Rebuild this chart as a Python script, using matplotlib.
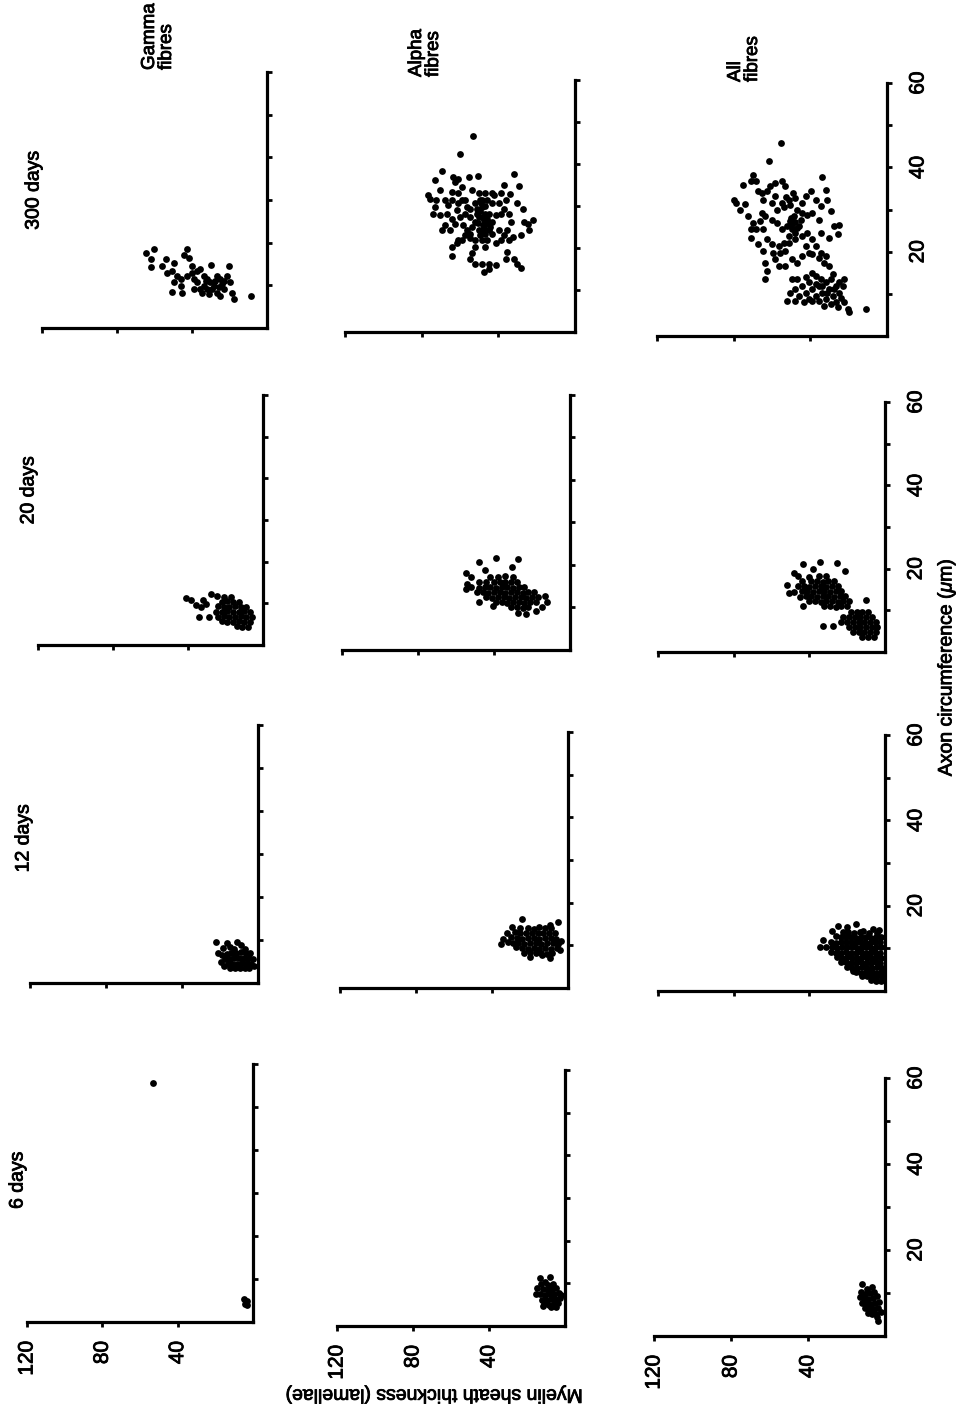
# pylint: disable=invalid-name

"""
    Myelin sheath thickness vs axon circumference (gamma / alpha / all fibres)

    Recreates the rotated 3 x 4 grid of scatter panels and saves out.png.
"""

from __future__ import annotations
import matplotlib
matplotlib.use('Agg')
import matplotlib.pyplot as plt
import matplotlib.patheffects as pe


# ============================================================
# Data: (myelin thickness [lamellae], axon circumference [um])
# ============================================================

GAMMA_6D = [(4.8, 5.4), (3.2, 5.0), (4.0, 4.2), (3.0, 4.0), (53.0, 55.5)]

ALPHA_6D = [
    (13.2, 11.2), (7.9, 11.4), (10.5, 10.3), (12.5, 9.8), (9.0, 9.6), (6.5, 9.9),
    (14.8, 8.9), (11.8, 8.6), (9.2, 8.4), (6.8, 8.7), (4.6, 8.9), (15.3, 7.6),
    (13.0, 7.4), (10.6, 7.3), (8.0, 7.5), (5.6, 7.6), (3.4, 7.8), (12.2, 6.2),
    (9.6, 6.1), (7.2, 6.3), (4.8, 6.4), (2.6, 6.6), (10.8, 5.2), (8.4, 5.0),
    (6.0, 5.1), (3.8, 5.3), (7.5, 4.4), (5.0, 4.5), (11.5, 4.8), (2.0, 7.2),
]

ALL_6D = [
    (12.2, 12.0), (6.9, 11.5), (9.5, 11.0), (12.5, 10.2), (10.2, 9.8), (7.8, 10.0),
    (5.5, 10.3), (13.2, 9.0), (11.0, 8.6), (8.6, 8.7), (6.2, 8.9), (4.0, 9.2),
    (12.0, 7.6), (9.6, 7.4), (7.2, 7.5), (5.0, 7.7), (3.0, 8.0), (10.5, 6.4),
    (8.0, 6.2), (5.8, 6.3), (3.6, 6.6), (7.0, 5.2), (4.6, 5.1), (4.2, 4.4),
    (3.7, 3.4), (2.2, 5.6), (9.0, 5.3),
]

GAMMA_12D = [
    (22.2, 9.5), (11.1, 9.5), (21.2, 7.0), (18.5, 8.1), (16.4, 9.3), (14.8, 8.4),
    (9.0, 8.8), (12.5, 8.0), (7.0, 8.0), (19.0, 6.5), (16.5, 6.8), (14.0, 7.0),
    (11.5, 7.0), (9.0, 7.1), (6.5, 7.0), (4.0, 7.0), (17.5, 5.5), (15.0, 5.6),
    (12.5, 5.8), (10.0, 5.8), (7.5, 5.9), (5.0, 5.8), (2.5, 5.6), (16.0, 4.4),
    (13.5, 4.4), (11.0, 4.5), (8.5, 4.6), (6.0, 4.6), (3.5, 4.5), (14.5, 3.4),
    (12.0, 3.4), (9.5, 3.4), (7.0, 3.5), (4.5, 3.6), (2.2, 4.0), (17.8, 4.0),
    (19.5, 5.0),
]

ALPHA_12D = [
    (24.3, 16.2), (5.3, 15.5), (9.5, 14.8), (29.6, 14.3), (34.4, 11.5), (32.3, 12.9),
    (20.1, 7.3), (9.5, 7.0), (13.8, 7.7), (4.0, 9.0), (3.5, 11.0), (35.0, 10.4),
    (8.2, 8.2), (11.0, 8.0), (14.1, 8.3), (17.0, 8.1), (19.8, 8.4), (23.0, 8.2),
    (6.0, 9.4), (9.1, 9.2), (12.0, 9.3), (15.2, 9.1), (18.0, 9.4), (21.1, 9.2),
    (24.0, 9.3), (27.2, 9.5), (5.1, 10.4), (8.0, 10.6), (11.0, 10.5), (14.0, 10.4),
    (17.1, 10.6), (20.0, 10.5), (23.0, 10.4), (26.1, 10.6), (29.0, 10.5), (31.8, 10.8),
    (6.2, 11.6), (9.0, 11.8), (12.1, 11.7), (15.0, 11.6), (18.0, 11.8), (21.0, 11.7),
    (24.1, 11.6), (27.0, 11.8), (30.0, 11.9), (7.0, 12.8), (10.0, 13.0), (13.1, 12.9),
    (16.0, 12.8), (19.0, 13.0), (22.1, 12.9), (25.0, 12.8), (28.0, 13.1), (9.0, 14.1),
    (12.2, 14.0), (15.0, 14.2), (18.1, 13.9), (21.0, 14.1), (25.0, 14.0),
]

ALL_12D = [
    (6.3, 14.5), (11.6, 14.0), (24.9, 15.2), (28.0, 14.0), (32.8, 11.9), (34.4, 10.3),
    (3.0, 14.2), (20.0, 15.0), (15.5, 15.6),
    (2.0, 2.4), (4.6, 2.3), (7.2, 2.5),
    (1.6, 3.4), (4.2, 3.5), (6.8, 3.3), (9.4, 3.4), (12.0, 3.5),
    (2.2, 4.4), (4.8, 4.3), (7.4, 4.5), (10.0, 4.4), (12.6, 4.3), (15.2, 4.5), (17.0, 4.6),
    (1.8, 5.5), (4.4, 5.6), (7.0, 5.4), (9.6, 5.5), (12.2, 5.6), (14.8, 5.4), (17.4, 5.5),
    (20.0, 5.7), (2.4, 6.6), (5.0, 6.7), (7.6, 6.5), (10.2, 6.6), (12.8, 6.7), (15.4, 6.5),
    (18.0, 6.6), (20.6, 6.7), (23.2, 6.8), (1.9, 7.8), (4.5, 7.9), (7.1, 7.7), (9.7, 7.8),
    (12.3, 7.9), (14.9, 7.7), (17.5, 7.8), (20.1, 7.9), (22.7, 7.8), (25.4, 8.0),
    (2.5, 9.0), (5.1, 9.1), (7.7, 8.9), (10.3, 9.0), (12.9, 9.1), (15.5, 8.9), (18.1, 9.0),
    (20.7, 9.1), (23.3, 9.0), (25.9, 8.9), (28.5, 9.2), (2.0, 10.2), (4.6, 10.3),
    (7.2, 10.1), (9.8, 10.2), (12.4, 10.3), (15.0, 10.1), (17.6, 10.2), (20.2, 10.3),
    (22.8, 10.2), (25.4, 10.1), (28.0, 10.3), (31.0, 10.4), (2.6, 11.4), (5.2, 11.5),
    (7.8, 11.3), (10.4, 11.4), (13.0, 11.5), (15.6, 11.3), (18.2, 11.4), (20.8, 11.5),
    (23.4, 11.4), (26.0, 11.3), (28.8, 11.6), (2.2, 12.6), (4.8, 12.7), (7.4, 12.5),
    (10.0, 12.6), (12.6, 12.7), (15.2, 12.5), (17.8, 12.6), (20.4, 12.7), (23.0, 12.6),
    (25.8, 12.8), (4.0, 13.7), (8.6, 13.6), (13.4, 13.8), (16.6, 13.7), (19.4, 13.9),
    (22.2, 13.8),
]

GAMMA_20D = [
    (41.0, 11.3), (38.6, 10.8), (32.0, 10.8), (27.5, 12.2), (34.0, 6.7), (29.0, 6.7),
    (33.0, 9.0), (30.5, 9.8), (36.0, 9.5), (24.5, 11.8),
    (8.0, 4.4), (11.0, 4.3), (14.0, 4.5), (7.0, 5.6), (10.0, 5.5), (13.0, 5.7),
    (16.0, 5.6), (19.0, 5.5), (22.0, 5.7), (6.0, 6.8), (9.0, 6.7), (12.0, 6.9),
    (15.0, 6.8), (18.0, 6.7), (21.0, 6.9), (24.0, 6.8), (7.0, 8.0), (10.0, 8.1),
    (13.0, 7.9), (16.0, 8.0), (19.0, 8.1), (22.0, 7.9), (25.0, 8.0), (9.0, 9.2),
    (12.0, 9.1), (15.0, 9.3), (18.0, 9.2), (21.0, 9.1), (24.0, 9.3), (13.0, 10.4),
    (16.0, 10.3), (19.0, 10.5), (22.0, 10.4), (17.0, 11.4), (21.0, 11.5),
]

ALPHA_20D = [
    (39.0, 21.7), (27.5, 21.5), (48.0, 20.8), (54.5, 18.0), (13.0, 12.7), (18.0, 9.2),
    (27.5, 8.7), (40.7, 10.4), (48.0, 11.3), (54.5, 14.4), (54.0, 15.6), (45.0, 18.8),
    (30.5, 19.5), (15.0, 10.2), (12.2, 11.3), (23.0, 8.5),
    (22.0, 10.0), (25.0, 9.9), (28.0, 10.1), (31.0, 10.0),
    (18.0, 11.2), (21.0, 11.3), (24.0, 11.1), (27.0, 11.2), (30.0, 11.3), (33.0, 11.1),
    (36.0, 11.2), (39.0, 11.3), (17.0, 12.4), (20.0, 12.5), (23.0, 12.3), (26.0, 12.4),
    (29.0, 12.5), (32.0, 12.3), (35.0, 12.4), (38.0, 12.5), (41.0, 12.3), (44.0, 12.4),
    (19.0, 13.6), (22.0, 13.7), (25.0, 13.5), (28.0, 13.6), (31.0, 13.7), (34.0, 13.5),
    (37.0, 13.6), (40.0, 13.7), (43.0, 13.5), (46.0, 13.6), (49.0, 13.7), (24.0, 14.8),
    (27.0, 14.9), (30.0, 14.7), (33.0, 14.8), (36.0, 14.9), (39.0, 14.7), (42.0, 14.8),
    (45.0, 14.9), (48.0, 14.7), (52.0, 14.8), (28.0, 16.0), (31.0, 16.1), (34.0, 15.9),
    (37.0, 16.0), (40.0, 16.1), (44.0, 15.9), (48.0, 16.0), (30.0, 17.2), (34.0, 17.3),
    (38.0, 17.1), (42.0, 17.2), (52.0, 17.2),
]

ALL_20D = [
    (34.4, 21.6), (25.4, 21.3), (43.4, 21.0), (51.0, 14.2), (43.4, 11.0), (32.8, 6.2),
    (27.5, 6.2), (10.0, 12.5), (48.0, 19.0), (38.0, 20.0), (21.0, 19.5), (52.0, 16.0),
    (20.0, 11.0), (23.0, 11.1), (26.0, 10.9), (29.0, 11.0), (32.0, 11.1),
    (19.0, 12.2), (22.0, 12.3), (25.0, 12.1), (28.0, 12.2), (31.0, 12.3), (34.0, 12.1),
    (37.0, 12.2), (40.0, 12.3), (21.0, 13.4), (24.0, 13.5), (27.0, 13.3), (30.0, 13.4),
    (33.0, 13.5), (36.0, 13.3), (39.0, 13.4), (42.0, 13.5), (45.0, 13.3), (23.0, 14.6),
    (26.0, 14.7), (29.0, 14.5), (32.0, 14.6), (35.0, 14.7), (38.0, 14.5), (41.0, 14.6),
    (44.0, 14.7), (48.0, 14.5), (25.0, 15.8), (28.0, 15.9), (31.0, 15.7), (34.0, 15.8),
    (37.0, 15.9), (40.0, 15.7), (43.0, 15.8), (46.0, 15.9), (27.0, 17.0), (30.0, 17.1),
    (33.0, 16.9), (36.0, 17.0), (39.0, 17.1), (44.0, 17.0), (31.0, 18.2), (35.0, 18.3),
    (40.0, 18.1), (46.0, 18.2),
    (6.0, 3.6), (9.0, 3.5), (12.0, 3.7), (5.0, 4.8), (8.0, 4.9), (11.0, 4.7),
    (14.0, 4.8), (17.0, 4.9), (4.0, 6.0), (7.0, 6.1), (10.0, 5.9), (13.0, 6.0),
    (16.0, 6.1), (19.0, 5.9), (5.0, 7.2), (8.0, 7.3), (11.0, 7.1), (14.0, 7.2),
    (17.0, 7.3), (20.0, 7.1), (23.0, 7.2), (7.0, 8.4), (10.0, 8.5), (13.0, 8.3),
    (16.0, 8.4), (19.0, 8.5), (22.0, 8.3), (9.0, 9.6), (12.0, 9.7), (15.0, 9.5),
    (18.0, 9.6),
]

GAMMA_300D = [
    (64.6, 17.6), (60.2, 18.6), (61.9, 16.1), (61.9, 14.2), (54.0, 16.1), (55.8, 14.5),
    (49.6, 15.3), (53.1, 12.8), (50.5, 13.4), (47.8, 12.2), (42.5, 18.4), (44.3, 17.0),
    (41.7, 16.5), (39.9, 14.5), (49.6, 10.7), (46.1, 9.9), (50.5, 8.5), (45.2, 8.3),
    (39.0, 9.1), (35.5, 13.8), (29.8, 14.7), (20.5, 14.5), (33.7, 12.2), (39.0, 11.4),
    (37.2, 10.7), (32.0, 11.4), (26.7, 12.2), (24.9, 11.4), (21.4, 12.2), (19.6, 10.7),
    (23.1, 9.1), (26.7, 8.3), (31.1, 7.9), (24.9, 7.5), (18.7, 8.3), (17.8, 6.8),
    (8.7, 7.5), (28.4, 9.9), (33.7, 9.9), (30.2, 10.7), (35.5, 9.1), (27.5, 11.0),
    (24.0, 10.3), (32.0, 9.1), (42.5, 12.2), (39.9, 13.0), (46.1, 11.4), (29.3, 9.1),
    (25.8, 9.5), (32.8, 11.0), (23.1, 11.0), (34.6, 8.3), (37.2, 13.4),
]

ALPHA_300D = [
    (53.4, 46.6), (59.9, 42.3), (69.3, 38.4), (73.2, 36.1), (31.7, 37.7), (29.4, 34.8),
    (76.7, 32.6), (75.8, 31.6), (72.3, 31.5), (67.9, 31.5), (63.5, 36.9), (60.8, 36.5),
    (55.5, 36.9), (50.8, 37.1), (62.6, 35.7), (59.1, 34.6), (53.8, 33.8), (50.2, 33.0),
    (46.7, 33.0), (43.2, 33.0), (38.8, 33.1), (37.0, 35.0), (34.0, 32.8), (30.0, 30.6),
    (27.3, 29.4), (22.0, 26.6), (23.8, 24.2), (28.2, 23.2), (73.2, 29.8), (74.1, 28.2),
    (70.5, 27.8), (67.0, 28.2), (64.4, 27.0), (67.9, 25.4), (69.6, 24.2), (65.2, 24.2),
    (62.6, 25.8), (60.8, 30.6), (57.3, 31.4), (54.7, 29.4), (52.0, 30.6), (49.4, 31.4),
    (48.5, 29.8), (46.7, 28.2), (50.2, 27.4), (52.0, 26.2), (53.8, 25.0), (56.4, 24.2),
    (57.3, 23.0), (59.1, 21.9), (61.7, 21.1), (64.4, 20.3), (64.4, 18.0), (60.8, 21.9),
    (54.7, 22.3), (52.0, 21.9), (49.4, 23.0), (46.7, 23.4), (45.0, 24.2), (43.2, 26.2),
    (41.4, 27.8), (38.8, 28.2), (39.7, 30.6), (37.0, 29.4), (34.4, 28.2), (33.5, 26.2),
    (35.3, 24.2), (32.6, 22.7), (34.4, 21.9), (38.8, 21.9), (41.4, 21.1), (46.7, 20.3),
    (48.5, 21.9), (47.6, 26.6), (45.8, 26.2), (52.0, 20.3), (53.8, 18.7), (54.7, 17.5),
    (52.0, 16.3), (48.5, 16.3), (47.6, 14.3), (45.0, 16.3), (41.4, 15.9), (45.0, 15.1),
    (35.3, 19.1), (36.1, 17.5), (31.7, 17.5), (30.0, 16.3), (28.2, 15.3), (26.4, 26.2),
    (24.7, 25.8), (43.2, 23.4), (57.3, 28.2), (54.7, 27.4), (59.9, 27.4), (61.7, 29.0),
    (66.1, 30.2), (70.5, 33.8), (64.4, 33.4), (60.8, 33.0), (45.8, 31.4), (43.2, 30.6),
    (47.6, 24.6), (50.2, 24.2), (45.8, 21.9), (51.1, 28.2), (48.5, 27.4), (46.7, 25.8),
    (45.0, 28.2), (48.5, 31.4), (51.1, 29.4), (56.4, 29.8), (59.1, 31.4), (64.4, 31.4),
    (36.1, 31.4), (42.3, 32.6), (58.2, 25.4), (54.7, 23.4), (39.7, 24.2), (37.0, 23.0),
    (47.0, 30.0), (49.5, 28.8), (46.0, 27.0), (48.0, 25.5), (50.5, 26.0), (47.5, 23.8),
    (44.5, 25.0), (49.0, 30.8),
]

ALL_300D = [
    (55.2, 45.7), (61.4, 41.6), (34.1, 37.7), (10.8, 6.5), (69.9, 38.2),
    (79.6, 32.3), (78.7, 31.5), (76.9, 30.0), (74.3, 31.4), (75.1, 35.9), (70.7, 36.7),
    (68.1, 36.7), (67.2, 34.3), (72.5, 28.4), (69.9, 26.8), (68.1, 25.3), (70.7, 25.3),
    (70.7, 23.3), (65.4, 33.9), (62.8, 34.3), (64.6, 32.3), (61.0, 35.5), (58.4, 36.3),
    (54.9, 36.7), (53.1, 35.5), (58.4, 33.1), (60.2, 31.5), (57.5, 30.0), (54.9, 31.5),
    (51.3, 32.3), (47.8, 32.7), (44.3, 31.5), (42.5, 33.1), (39.9, 34.3), (37.2, 32.3),
    (34.6, 30.8), (31.9, 34.7), (31.1, 32.3), (29.3, 29.6), (27.5, 26.0), (24.9, 26.4),
    (25.8, 24.1), (30.2, 23.3), (34.6, 24.5), (35.5, 27.6), (39.0, 29.2), (41.6, 28.8),
    (44.3, 29.2), (46.9, 30.0), (48.7, 28.4), (50.5, 27.2), (52.2, 26.0), (49.6, 25.3),
    (46.0, 26.0), (47.8, 24.5), (51.3, 23.7), (54.9, 25.3), (57.5, 26.8), (60.2, 27.6),
    (63.7, 28.4), (65.4, 29.2), (66.3, 27.2), (64.6, 25.3), (62.8, 22.9), (67.2, 21.7),
    (64.6, 20.1), (63.7, 17.4), (62.8, 15.4), (63.7, 13.5), (59.3, 19.8), (56.6, 21.3),
    (60.2, 21.7), (54.0, 22.1), (53.1, 20.1), (51.3, 22.1), (47.8, 22.9), (44.3, 23.7),
    (41.6, 24.5), (39.0, 22.9), (37.2, 21.3), (40.8, 19.8), (44.3, 19.0), (46.9, 17.4),
    (49.6, 18.2), (53.1, 16.6), (56.6, 16.6), (58.4, 18.2), (55.7, 19.8), (42.5, 21.3),
    (39.0, 19.4), (35.5, 18.6), (32.8, 17.4), (30.2, 16.6), (31.9, 19.0), (34.6, 19.8),
    (52.5, 33.0), (50.5, 31.0), (53.5, 30.5), (49.0, 33.8), (48.0, 27.0), (49.5, 26.5),
    (47.0, 25.5), (50.0, 28.0), (45.0, 27.5),
    (52.2, 8.4), (50.5, 10.3), (47.8, 11.1), (46.0, 9.5), (49.6, 13.5), (46.9, 13.5),
    (44.3, 11.9), (42.5, 13.9), (40.8, 12.7), (39.0, 11.1), (42.5, 10.3), (40.8, 8.7),
    (37.2, 9.5), (35.5, 11.9), (33.7, 10.3), (31.9, 8.7), (30.2, 11.1), (28.4, 9.5),
    (26.6, 8.0), (24.9, 10.3), (23.1, 11.9), (22.2, 13.5), (29.3, 13.5), (31.9, 12.7),
    (34.6, 13.5), (37.2, 14.2), (39.0, 8.4), (35.5, 8.4), (32.8, 7.2), (29.3, 7.6),
    (25.8, 6.8), (22.2, 8.0), (20.5, 6.4), (19.6, 5.6), (39.0, 15.0), (28.4, 14.6),
    (24.9, 12.7), (43.4, 8.0), (47.8, 8.4), (26.6, 11.9), (24.0, 9.1), (31.1, 10.3),
    (37.2, 12.3), (33.7, 11.9), (27.5, 11.1),
]

AGE_LABELS = ['6 days', '12 days', '20 days', '300 days']
FIBRE_LABELS = ['Gamma\nfibres', 'Alpha\nfibres', 'All\nfibres']

X_TICKS = [120, 80, 40]
X_TICK_LABELS = ['120', '80', '40']
Y_TICKS = [10, 20, 30, 40, 50, 60]
Y_TICK_LABELS = ['', '20', '', '40', '', '60']

# panel data, rows = ages (6, 12, 20, 300 days), cols = gamma, alpha, all
PANEL_DATA = [
    [GAMMA_6D, ALPHA_6D, ALL_6D],
    [GAMMA_12D, ALPHA_12D, ALL_12D],
    [GAMMA_20D, ALPHA_20D, ALL_20D],
    [GAMMA_300D, ALPHA_300D, ALL_300D],
]

# ============================================================
# Layout (pixels on a 961 x 1428 canvas): left, right, top, bottom
# ============================================================

W, H = 961, 1428
PANEL_BOX = [
    [(27, 253, 1064, 1322), (337, 565, 1070, 1326), (654, 885, 1078, 1336)],
    [(30, 258, 725, 983), (340, 568, 732, 988), (658, 885, 735, 991)],
    [(38, 263, 395, 645), (342, 570, 395, 650), (658, 885, 402, 652)],
    [(42, 267, 72, 328), (345, 575, 80, 332), (657, 887, 83, 336)],
]
AGE_POS = [(18, 1180), (24, 838), (29, 490), (34, 190)]
FIBRE_POS = [(158, 70), (425, 77), (744, 82)]

FONT = 15
LW = 2.3

# slightly heavier strokes, like the printed original
HEAVY = [pe.withStroke(linewidth=0.6, foreground='black')]


def px_rect(box):
    """
        Convert a pixel box (left, right, top, bottom) to figure fractions.
    """
    l, r, t, b = box
    return [l / W, 1 - b / H, (r - l) / W, (b - t) / H]


def draw_panel(fig, box, pts, show_x, show_y):
    """
        Draw one rotated scatter panel: myelin runs right-to-left, axon upwards.
    """
    ax = fig.add_axes(px_rect(box))
    ax.patch.set_visible(False)
    ax.set_xlim(120, 0)
    ax.set_ylim(0, 60)

    for side in ['top', 'left']:
        ax.spines[side].set_visible(False)
    for side in ['right', 'bottom']:
        ax.spines[side].set_linewidth(LW)
        ax.spines[side].set_capstyle('projecting')

    ax.yaxis.tick_right()
    ax.set_xticks(X_TICKS)
    ax.set_yticks(Y_TICKS)
    ax.tick_params(axis='both', direction='out', length=3.5, width=2.0,
                   labelsize=FONT)
    ax.tick_params(axis='x', pad=10)
    ax.tick_params(axis='y', pad=12)

    if show_x:
        ax.set_xticklabels(X_TICK_LABELS, rotation=90, va='top')
    else:
        ax.set_xticklabels([])
    if show_y:
        ax.set_yticklabels(Y_TICK_LABELS, rotation=90, va='center')
    else:
        ax.set_yticklabels([])
    for lab in ax.get_xticklabels() + ax.get_yticklabels():
        lab.set_path_effects(HEAVY)

    xs = [p[0] for p in pts]
    ys = [p[1] for p in pts]
    ax.scatter(xs, ys, s=24, color='black', linewidths=0, clip_on=False,
               zorder=3)
    return ax


def main() -> None:
    """
        Build the full figure and save out.png.
    """
    plt.rcParams['font.family'] = ['Liberation Sans', 'DejaVu Sans']
    plt.rcParams['mathtext.fontset'] = 'custom'
    plt.rcParams['mathtext.rm'] = 'Liberation Sans'
    plt.rcParams['mathtext.it'] = 'Liberation Sans:italic'

    fig = plt.figure(figsize=(W / 100, H / 100), dpi=100)
    fig.patch.set_facecolor('white')

    for r, row in enumerate(PANEL_DATA):
        for c, pts in enumerate(row):
            draw_panel(fig, PANEL_BOX[r][c], pts, show_x=(r == 0),
                       show_y=(c == 2))

    for label, (x, y) in zip(AGE_LABELS, AGE_POS):
        fig.text(x / W, 1 - y / H, label, rotation=90, ha='center',
                 va='center', fontsize=14, path_effects=HEAVY)

    for label, (x, y) in zip(FIBRE_LABELS, FIBRE_POS):
        fig.text(x / W, 1 - y / H, label, rotation=90, ha='center',
                 va='bottom', multialignment='left', fontsize=13.5,
                 linespacing=1.0, path_effects=HEAVY)

    fig.text(947 / W, 1 - 667 / H, 'Axon circumference ($\\mu$m)',
             rotation=90, ha='center', va='center', fontsize=14,
             path_effects=HEAVY)
    fig.text(433 / W, 1 - 1394 / H, 'Myelin sheath thickness (lamellae)',
             rotation=180, ha='center', va='center', fontsize=14,
             path_effects=HEAVY)

    fig.savefig('out.png', dpi=100, facecolor='white')
    plt.close(fig)


if __name__ == '__main__':
    main()
